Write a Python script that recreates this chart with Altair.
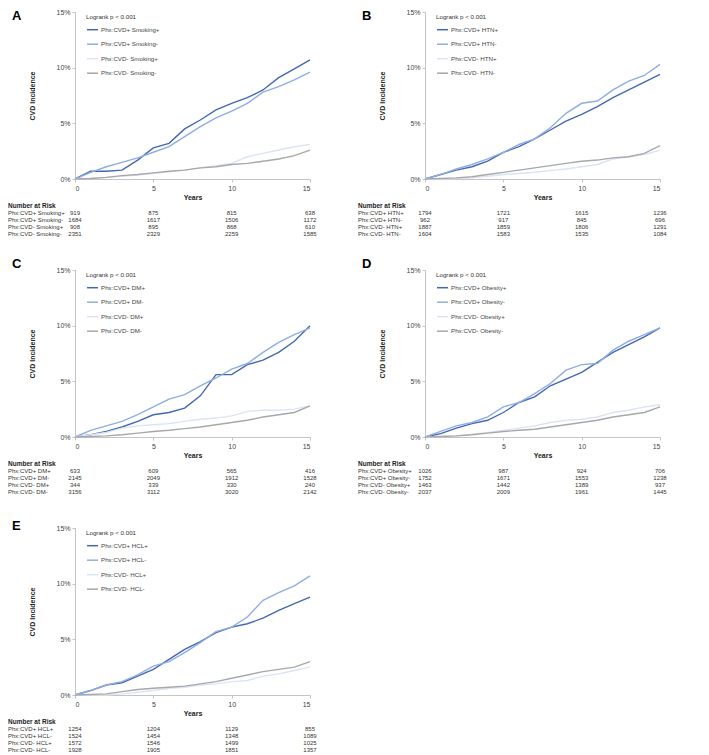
import altair as alt
import pandas as pd

YEARS = list(range(16))
RISK_YEARS = [0, 5, 10, 15]
COLORS = ["#4467b3", "#8fade3", "#dbe4f4", "#a8a8a8"]

# Panel A - Smoking
a_names = ["Phx:CVD+ Smoking+", "Phx:CVD+ Smoking-", "Phx:CVD- Smoking+", "Phx:CVD- Smoking-"]
a_s1 = [0, 0.7, 0.7, 0.8, 1.7, 2.8, 3.2, 4.5, 5.3, 6.2, 6.8, 7.3, 8.0, 9.1, 9.9, 10.7]
a_s2 = [0, 0.6, 1.1, 1.5, 1.9, 2.4, 2.9, 3.8, 4.7, 5.5, 6.1, 6.8, 7.8, 8.3, 8.9, 9.6]
a_s3 = [0, 0.05, 0.15, 0.25, 0.35, 0.5, 0.65, 0.8, 1.0, 1.2, 1.4, 2.0, 2.3, 2.6, 2.9, 3.1]
a_s4 = [0, 0.05, 0.15, 0.3, 0.4, 0.55, 0.7, 0.8, 1.0, 1.1, 1.3, 1.4, 1.6, 1.8, 2.1, 2.6]
a_risk = [[919, 875, 815, 638], [1684, 1617, 1506, 1172], [908, 895, 868, 610], [2351, 2329, 2259, 1585]]

# Panel B - HTN
b_names = ["Phx:CVD+ HTN+", "Phx:CVD+ HTN-", "Phx:CVD- HTN+", "Phx:CVD- HTN-"]
b_s1 = [0, 0.4, 0.8, 1.1, 1.6, 2.4, 2.9, 3.6, 4.4, 5.2, 5.8, 6.5, 7.3, 8.0, 8.7, 9.4]
b_s2 = [0, 0.4, 0.9, 1.3, 1.8, 2.4, 3.1, 3.6, 4.6, 5.9, 6.8, 7.0, 8.0, 8.8, 9.3, 10.3]
b_s3 = [0, 0, 0.05, 0.1, 0.25, 0.4, 0.5, 0.6, 0.75, 0.9, 1.1, 1.3, 1.8, 2.0, 2.2, 2.6]
b_s4 = [0, 0.05, 0.1, 0.2, 0.4, 0.6, 0.8, 1.0, 1.2, 1.4, 1.6, 1.7, 1.9, 2.0, 2.3, 3.0]
b_risk = [[1794, 1721, 1615, 1236], [962, 917, 845, 696], [1887, 1859, 1806, 1291], [1604, 1583, 1535, 1084]]

# Panel C - DM
c_names = ["Phx:CVD+ DM+", "Phx:CVD+ DM-", "Phx:CVD- DM+", "Phx:CVD- DM-"]
c_s1 = [0, 0.2, 0.5, 0.9, 1.4, 2.0, 2.2, 2.6, 3.7, 5.6, 5.6, 6.5, 6.9, 7.6, 8.6, 10.0]
c_s2 = [0, 0.6, 1.0, 1.4, 2.0, 2.7, 3.4, 3.8, 4.6, 5.3, 6.1, 6.6, 7.6, 8.5, 9.2, 9.8]
c_s3 = [0, 0.2, 0.4, 0.8, 1.0, 1.1, 1.2, 1.4, 1.6, 1.7, 1.9, 2.3, 2.4, 2.4, 2.5, 2.8]
c_s4 = [0, 0.05, 0.1, 0.2, 0.35, 0.5, 0.6, 0.75, 0.9, 1.1, 1.3, 1.5, 1.8, 2.0, 2.2, 2.8]
c_risk = [[633, 609, 565, 416], [2145, 2049, 1912, 1528], [344, 339, 330, 240], [3156, 3112, 3020, 2142]]

# Panel D - Obesity
d_names = ["Phx:CVD+ Obesity+", "Phx:CVD+ Obesity-", "Phx:CVD- Obesity+", "Phx:CVD- Obesity-"]
d_s1 = [0, 0.3, 0.8, 1.2, 1.5, 2.2, 3.1, 3.6, 4.6, 5.2, 5.8, 6.7, 7.6, 8.3, 9.0, 9.8]
d_s2 = [0, 0.5, 1.0, 1.3, 1.8, 2.7, 3.1, 3.9, 4.8, 6.0, 6.5, 6.6, 7.8, 8.6, 9.2, 9.8]
d_s3 = [0, 0.05, 0.1, 0.25, 0.4, 0.6, 0.8, 1.0, 1.3, 1.5, 1.6, 1.8, 2.2, 2.4, 2.7, 2.9]
d_s4 = [0, 0.05, 0.1, 0.2, 0.35, 0.5, 0.6, 0.7, 0.9, 1.1, 1.3, 1.5, 1.8, 2.0, 2.2, 2.7]
d_risk = [[1026, 987, 924, 706], [1752, 1671, 1553, 1238], [1463, 1442, 1389, 937], [2037, 2009, 1961, 1445]]

# Panel E - HCL
e_names = ["Phx:CVD+ HCL+", "Phx:CVD+ HCL-", "Phx:CVD- HCL+", "Phx:CVD- HCL-"]
e_s1 = [0, 0.4, 0.9, 1.1, 1.7, 2.3, 3.2, 4.1, 4.8, 5.6, 6.1, 6.4, 6.9, 7.6, 8.2, 8.8]
e_s2 = [0, 0.4, 0.9, 1.2, 1.8, 2.6, 3.0, 3.8, 4.7, 5.7, 6.1, 7.0, 8.5, 9.2, 9.8, 10.7]
e_s3 = [0, 0, 0, 0.1, 0.25, 0.4, 0.6, 0.7, 0.9, 1.0, 1.2, 1.3, 1.7, 1.9, 2.2, 2.5]
e_s4 = [0, 0.05, 0.1, 0.3, 0.5, 0.6, 0.7, 0.8, 1.0, 1.2, 1.5, 1.8, 2.1, 2.3, 2.5, 3.0]
e_risk = [[1254, 1204, 1129, 855], [1524, 1454, 1348, 1089], [1572, 1546, 1499, 1025], [1928, 1905, 1851, 1357]]

W = 235
H = 167
FONT = "Liberation Sans"


def panel(letter, names, series, risk, letter_y):
    rows = []
    for name, vals in zip(names, series):
        for t, v in zip(YEARS, vals):
            rows.append({"t": t, "v": v / 100.0, "series": name})
    df = pd.DataFrame(rows)

    xenc = alt.X("t:Q", title="Years",
                 scale=alt.Scale(domain=[0, 15], nice=False, zero=False),
                 axis=alt.Axis(values=[0, 5, 10, 15], titlePadding=2))
    lines = alt.Chart(df).mark_line(strokeWidth=1.4).encode(
        x=xenc,
        y=alt.Y("v:Q", title="CVD Incidence",
                scale=alt.Scale(domain=[0, 0.15], nice=False),
                axis=alt.Axis(values=[0, 0.05, 0.10, 0.15], format=".0%", titlePadding=20)),
        color=alt.Color("series:N", sort=names,
                        scale=alt.Scale(domain=names, range=COLORS),
                        legend=alt.Legend(title="Logrank p < 0.001", orient="none",
                                          legendX=11, legendY=2)),
        order=alt.Order("t:Q"),
    )

    layers = [lines]
    hdr = alt.Chart(pd.DataFrame({"s": ["Number at Risk"]})).mark_text(
        align="left", baseline="middle", fontSize=6.5, fontWeight="bold", font=FONT, color="#222"
    ).encode(x=alt.value(-67), y=alt.value(H + 27), text="s:N")
    layers.append(hdr)
    for i, (name, nums) in enumerate(zip(names, risk)):
        yy = H + 34 + 7 * i
        lab = alt.Chart(pd.DataFrame({"s": [name]})).mark_text(
            align="left", baseline="middle", fontSize=6, font=FONT, color="#333"
        ).encode(x=alt.value(-67), y=alt.value(yy), text="s:N")
        ndf = pd.DataFrame({"t": RISK_YEARS, "n": [str(n) for n in nums]})
        num = alt.Chart(ndf).mark_text(
            align="center", baseline="middle", fontSize=6, font=FONT, color="#333"
        ).encode(x=alt.X("t:Q", title="Years"), y=alt.value(yy), text="n:N")
        layers += [lab, num]

    let = alt.Chart(pd.DataFrame({"s": [letter]})).mark_text(
        align="left", baseline="middle", fontSize=13, fontWeight="bold", font=FONT, color="#000"
    ).encode(x=alt.value(-63), y=alt.value(letter_y), text="s:N")
    layers.append(let)

    return alt.layer(*layers).properties(width=W, height=H)


pA = panel("A", a_names, [a_s1, a_s2, a_s3, a_s4], a_risk, 4)
pB = panel("B", b_names, [b_s1, b_s2, b_s3, b_s4], b_risk, 4)
pC = panel("C", c_names, [c_s1, c_s2, c_s3, c_s4], c_risk, -6)
pD = panel("D", d_names, [d_s1, d_s2, d_s3, d_s4], d_risk, -6)
pE = panel("E", e_names, [e_s1, e_s2, e_s3, e_s4], e_risk, -2)

chart = alt.concat(
    pA, pB, pC, pD, pE, columns=2, spacing={"row": 91, "column": 115}, bounds="flush"
).resolve_scale(color="independent").resolve_legend(color="independent").properties(
    padding={"left": 0, "top": 0, "right": 5, "bottom": 0}
).configure_view(stroke=None).configure_axis(
    grid=False, domainColor="#c4c4c4", tickColor="#c4c4c4", tickSize=3, labelPadding=2,
    labelFontSize=7, labelColor="#444", labelFont=FONT,
    titleFontSize=7, titleFontWeight="bold", titleColor="#222", titleFont=FONT,
).configure_legend(
    titleFontSize=6.2, titleFontWeight="normal", titleColor="#333", titleFont=FONT,
    labelFontSize=6.2, labelColor="#444", labelFont=FONT,
    symbolType="stroke", symbolStrokeWidth=1.5, symbolSize=120,
    rowPadding=4.5, padding=0, titlePadding=3, labelOffset=2,
)

chart.save("out.html", embed_options={"renderer": "svg", "actions": False})
